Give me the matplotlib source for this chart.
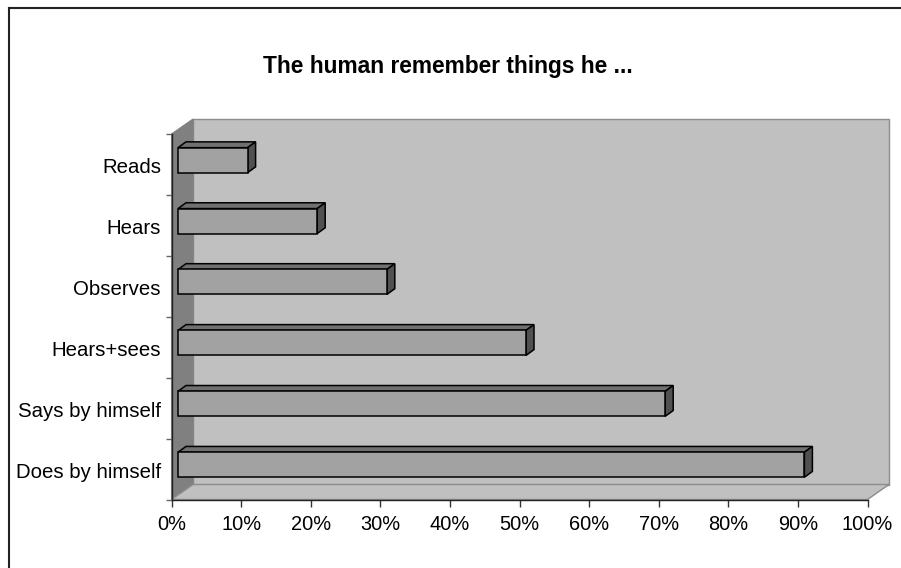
import numpy as np
import matplotlib
matplotlib.use("Agg")
import matplotlib.pyplot as plt
from matplotlib.lines import Line2D
from matplotlib.patches import Polygon

plt.rcParams['font.family'] = ['Liberation Sans', 'DejaVu Sans']

categories = ["Does by himself", "Says by himself", "Hears+sees", "Observes", "Hears", "Reads"]
values = [90, 70, 50, 30, 20, 10]
xticks = [0, 10, 20, 30, 40, 50, 60, 70, 80, 90, 100]
title = "The human remember things he ..."

W, H = 901, 568
fig = plt.figure(figsize=(W / 100, H / 100), dpi=100, facecolor="white")

# outer chart frame, only top and left show in the picture
fig.add_artist(Line2D([8.5 / W, 8.5 / W], [0, 1 - 7.5 / H], color="#222222", lw=1.5))
fig.add_artist(Line2D([8.5 / W, 1], [1 - 7.5 / H, 1 - 7.5 / H], color="#222222", lw=1.5))

# axes = the front plane of the fake 3d box
left, right, top, bottom = 171.5, 867.5, 134, 499.5
ax = fig.add_axes([left / W, 1 - bottom / H, (right - left) / W, (bottom - top) / H])
ax.set_xlim(0, 100)
ax.set_ylim(0, len(categories))
ax.patch.set_visible(False)

pxX = 100 / (right - left)
pxY = len(categories) / (bottom - top)
depthX, depthY = 21.5 * pxX, 15 * pxY


def poly(pts, fc, ec, lw=1.0, z=2):
    ax.add_patch(Polygon(pts, closed=True, facecolor=fc, edgecolor=ec, lw=lw, zorder=z, clip_on=False))


n = len(categories)
# back wall, side wall, floor
poly([(depthX, depthY), (100 + depthX, depthY), (100 + depthX, n + depthY), (depthX, n + depthY)], "#c0c0c0", "#8c8c8c", 1.0, 1)
poly([(0, 0), (depthX, depthY), (depthX, n + depthY), (0, n)], "#808080", "#808080", 0.8, 1)
poly([(0, 0), (100, 0), (100 + depthX, depthY), (depthX, depthY)], "#c0c0c0", "#8c8c8c", 1.0, 1)

# bars, set a little way into the box
barH = 25 * pxY
offX = 6.5 * pxX
shiftY = 4.3 * pxY
barDX, barDY = 8 * pxX, 5.8 * pxY
for i, v in enumerate(values):
    x0 = offX
    x1 = offX + v
    y0 = i + 0.5 - barH / 2 + shiftY
    y1 = y0 + barH
    ax.barh(y0, v, height=barH, left=x0, align="edge", color="#a2a2a2", edgecolor="black", lw=1.1, zorder=4)
    poly([(x0, y1), (x1, y1), (x1 + barDX, y1 + barDY), (x0 + barDX, y1 + barDY)], "#707070", "black", 1.1, 3)
    poly([(x1, y0), (x1 + barDX, y0 + barDY), (x1 + barDX, y1 + barDY), (x1, y1)], "#505050", "black", 1.1, 3)

for s in ["top", "right"]:
    ax.spines[s].set_visible(False)
for s in ["left", "bottom"]:
    ax.spines[s].set_color("#222222")
    ax.spines[s].set_linewidth(1.0)
    ax.spines[s].set_zorder(5)

ax.set_xticks(xticks)
ax.set_xticklabels([f"{t}%" for t in xticks], fontsize=14.4)
ax.set_yticks(np.arange(n + 1))
ax.set_yticklabels([])
ax.tick_params(axis="y", which="major", length=4.3, width=1, color="#666666")
ax.tick_params(axis="x", length=4.7, width=1, color="#333333", pad=6.5)

# category labels sit a bit under the middle of each band
for i, c in enumerate(categories):
    ax.annotate(c, (0, i + 0.5), xytext=(-10.5, -1.5), xycoords="data", textcoords="offset pixels",
                ha="right", va="center_baseline", fontsize=14.7, annotation_clip=False)

fig.text(448 / W, 1 - 66 / H, title, ha="center", va="center", fontsize=16.4, fontweight="bold")

fig.savefig("out.png", dpi=100, facecolor="white")
